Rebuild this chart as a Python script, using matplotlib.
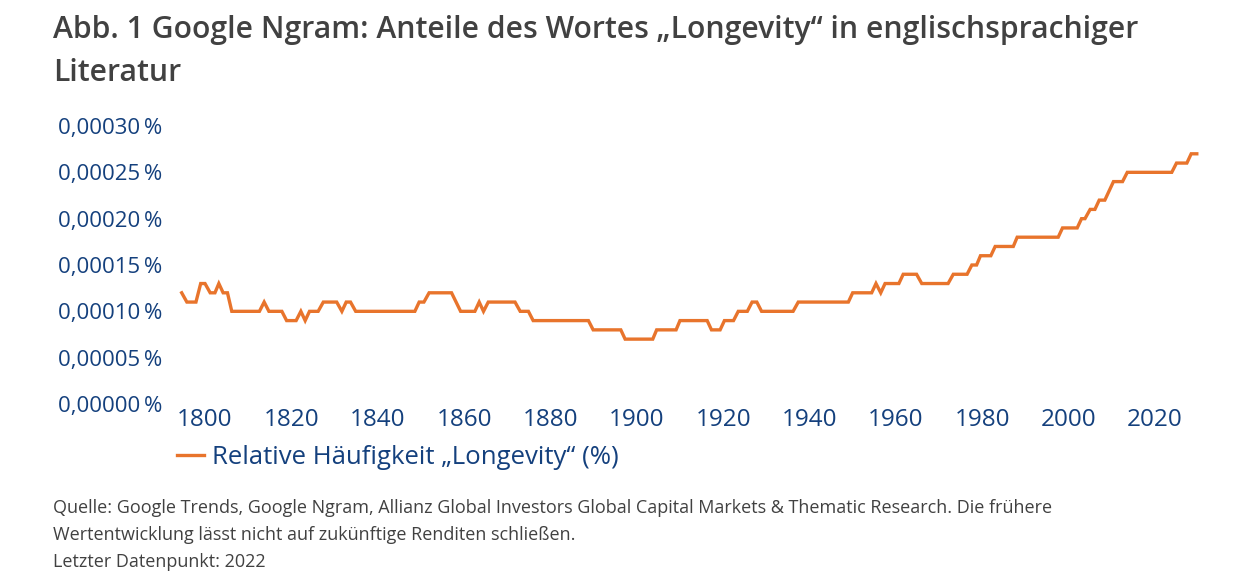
import numpy as np
import matplotlib.pyplot as plt
from matplotlib.ticker import FuncFormatter

# Stützpunkte der Kurve (Jahr, relative Häufigkeit in %)
jahre = [1794.6, 1795.8, 1797.9, 1799.0, 1800.0, 1801.2, 1802.3, 1803.2, 1804.2, 1805.2,
         1806.2, 1812.6, 1813.7, 1814.8, 1817.8, 1818.9, 1821.1, 1822.2, 1823.2, 1824.2,
         1826.2, 1827.4, 1830.5, 1831.7, 1832.7, 1833.7, 1834.9, 1848.6, 1849.6, 1850.7,
         1851.9, 1857.1, 1859.2, 1862.5, 1863.5, 1864.5, 1865.6, 1871.8, 1873.0, 1874.9,
         1876.0, 1888.8, 1889.9, 1896.3, 1897.3, 1903.7, 1904.6, 1909.1, 1910.0, 1916.3,
         1917.3, 1919.3, 1920.3, 1922.4, 1923.5, 1925.6, 1926.7, 1927.8, 1928.9, 1936.2,
         1937.4, 1949.0, 1950.0, 1954.4, 1955.4, 1956.5, 1957.5, 1960.7, 1961.7, 1964.8,
         1966.0, 1972.1, 1973.3, 1976.5, 1977.6, 1978.7, 1979.6, 1982.0, 1983.0, 1987.2,
         1988.1, 1997.6, 1998.6, 2002.0, 2003.0, 2003.8, 2005.0, 2006.1, 2007.1, 2008.4,
         2010.4, 2012.5, 2013.6, 2023.9, 2025.0, 2027.4, 2028.4, 2029.7]
werte = [12, 11, 11, 13, 13, 12, 12, 13, 12, 12,
         10, 10, 11, 10, 10, 9, 9, 10, 9, 10,
         10, 11, 11, 10, 11, 11, 10, 10, 11, 11,
         12, 12, 10, 10, 11, 10, 11, 11, 10, 10,
         9, 9, 8, 8, 7, 7, 8, 8, 9, 9,
         8, 8, 9, 9, 10, 10, 11, 11, 10, 10,
         11, 11, 12, 12, 13, 12, 13, 13, 14, 14,
         13, 13, 14, 14, 15, 15, 16, 16, 17, 17,
         18, 18, 19, 19, 20, 20, 21, 21, 22, 22,
         24, 24, 25, 25, 26, 26, 27, 27]
werte = [w * 0.00001 for w in werte]

xTicks = list(range(1800, 2021, 20))
yTicks = [0.0, 0.00005, 0.00010, 0.00015, 0.00020, 0.00025, 0.00030]

titelZeile1 = "Abb. 1 Google Ngram: Anteile des Wortes \u201eLongevity\u201c in englischsprachiger"
titelZeile2 = "Literatur"
legendenText = "Relative H\u00e4ufigkeit \u201eLongevity\u201c (%)"
fussnoten = [
    "Quelle: Google Trends, Google Ngram, Allianz Global Investors Global Capital Markets & Thematic Research. Die fr\u00fchere",
    "Wertentwicklung l\u00e4sst nicht auf zuk\u00fcnftige Renditen schlie\u00dfen.",
    "Letzter Datenpunkt: 2022",
]

blau = '#14407d'
orange = '#e8742c'
grau = '#414141'

plt.rcParams['font.family'] = ['Open Sans', 'DejaVu Sans']

W, H = 1249, 571
fig = plt.figure(figsize=(W / 100, H / 100), dpi=100)
ax = fig.add_axes([175 / W, 1 - 404 / H, 1030 / W, 278 / H])

linie, = ax.plot(jahre, werte, color=orange, linewidth=2.4, label=legendenText,
                 solid_joinstyle='miter')

ax.set_xlim(1793.05, 2031.6)
ax.set_ylim(0, 0.0003)
ax.set_xticks(xTicks)
ax.set_yticks(yTicks)
ax.yaxis.set_major_formatter(FuncFormatter(lambda v, p: f"{v:.5f}".replace('.', ',') + "\u2009%"))
ax.tick_params(axis='both', length=0, labelcolor=blau)
ax.tick_params(axis='x', pad=3, labelsize=17.5)
ax.tick_params(axis='y', pad=9, labelsize=16)
for s in ax.spines.values():
    s.set_visible(False)

ax.legend(handles=[linie], loc='center left', bbox_to_anchor=(177 / W, 1 - 457 / H),
          bbox_transform=fig.transFigure, frameon=False, fontsize=18.5, labelcolor=blau,
          handlelength=1.05, handletextpad=0.3, borderpad=0, borderaxespad=0)

fig.text(53 / W, 1 - 38 / H, titelZeile1, fontsize=21.7, fontweight='semibold', color=grau, va='baseline')
fig.text(53 / W, 1 - 81 / H, titelZeile2, fontsize=21.7, fontweight='semibold', color=grau, va='baseline')

for i, zeile in enumerate(fussnoten):
    fig.text(53 / W, 1 - (513 + 27 * i) / H, zeile, fontsize=13, color=grau, va='baseline')

fig.savefig('out.png', dpi=100)
